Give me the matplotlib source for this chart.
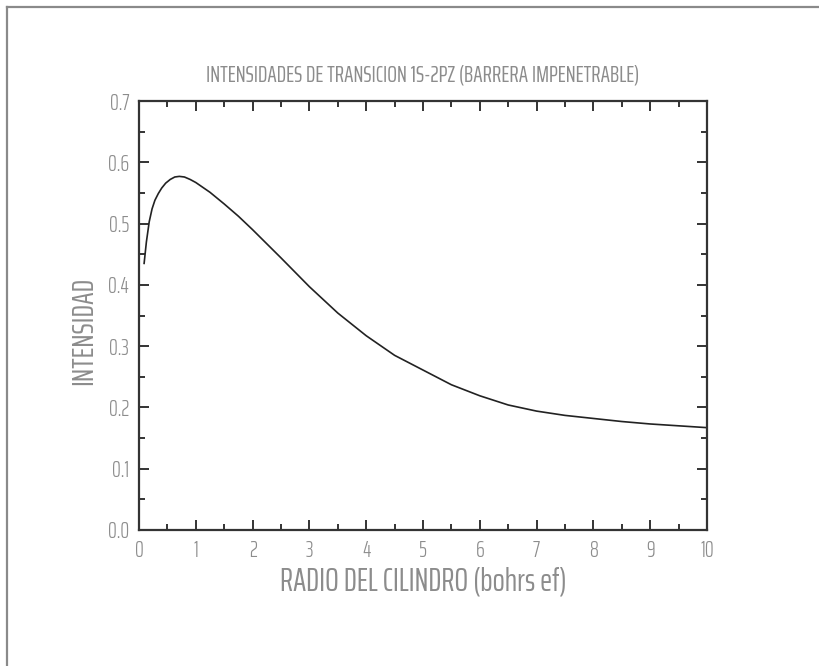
import numpy as np
import matplotlib.pyplot as plt
from matplotlib.lines import Line2D
from matplotlib.ticker import MultipleLocator

# radio del cilindro (bohrs ef) vs intensidad 1s-2pz
radio = [0.09, 0.13, 0.18, 0.23, 0.28, 0.34, 0.40, 0.47, 0.55, 0.63, 0.71,
         0.80, 0.90, 1.0, 1.25, 1.5, 1.75, 2.0, 2.5, 3.0, 3.5, 4.0, 4.5, 5.0,
         5.5, 6.0, 6.5, 7.0, 7.5, 8.0, 8.5, 9.0, 9.5, 10.0]
intensidad = [0.435, 0.470, 0.503, 0.524, 0.538, 0.549, 0.558, 0.566, 0.572,
              0.576, 0.577, 0.576, 0.572, 0.567, 0.551, 0.532, 0.512, 0.490,
              0.444, 0.397, 0.354, 0.317, 0.285, 0.261, 0.237, 0.219, 0.204,
              0.194, 0.187, 0.182, 0.177, 0.173, 0.170, 0.167]

titulo = 'INTENSIDADES DE TRANSICION 1S-2PZ (BARRERA IMPENETRABLE)'
xlab = 'RADIO DEL CILINDRO (bohrs ef)'
ylab = 'INTENSIDAD'

gris = '#8c8c8c'
plt.rcParams['font.family'] = ['Saira ExtraCondensed', 'Liberation Sans', 'DejaVu Sans']
plt.rcParams['font.weight'] = 300

fig = plt.figure(figsize=(8.2, 6.66), dpi=100)
ax = fig.add_axes([139 / 820, 136 / 666, 568 / 820, 429 / 666])

ax.plot(radio, intensidad, color='#222222', lw=1.2)

ax.set_xlim(0, 10)
ax.set_ylim(0, 0.7)
ax.xaxis.set_major_locator(MultipleLocator(1))
ax.xaxis.set_minor_locator(MultipleLocator(0.5))
ax.yaxis.set_major_locator(MultipleLocator(0.1))
ax.yaxis.set_minor_locator(MultipleLocator(0.05))
ax.yaxis.set_major_formatter(lambda v, p: '%.1f' % v)
ax.tick_params(which='both', direction='in', top=True, right=True,
               color='#333333', width=1.4, labelsize=16, labelcolor=gris)
ax.tick_params(which='major', length=7, pad=7)
ax.tick_params(which='minor', length=4)
for s in ax.spines.values():
    s.set_linewidth(1.6)
    s.set_color('#333333')

ax.set_title(titulo, fontsize=16.5, color=gris, pad=14)
ax.set_xlabel(xlab, fontsize=23, color=gris, labelpad=4)
ax.set_ylabel(ylab, fontsize=22, color=gris)
ax.yaxis.set_label_coords(-0.072, 0.465)

# marco exterior
fig.add_artist(Line2D([7 / 820, 7 / 820], [0, 1 - 7 / 666], color='#8a8a8a', lw=1.6))
fig.add_artist(Line2D([7 / 820, 1], [1 - 7 / 666, 1 - 7 / 666], color='#8a8a8a', lw=1.6))

fig.savefig('out.png', dpi=100)
